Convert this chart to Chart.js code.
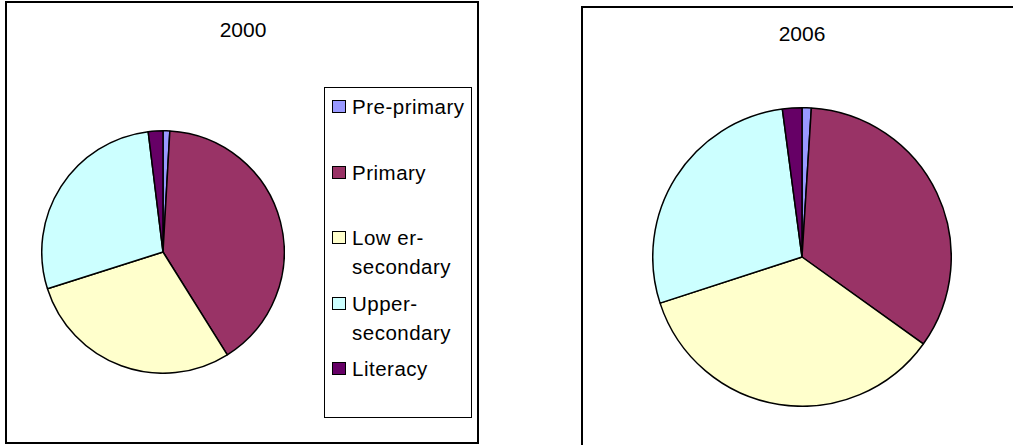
<!DOCTYPE html>
<html>
<head>
<meta charset="utf-8">
<script src="https://cdn.jsdelivr.net/npm/chart.js@4/dist/chart.umd.min.js"></script>
<style>
  html, body { margin: 0; padding: 0; background: #fff; overflow: hidden; }
  body { width: 1013px; height: 445px; position: relative;
         font-family: "Liberation Sans", Arial, sans-serif; color: #000; }
  .frame { position: absolute; border: 2px solid #000; box-sizing: border-box; }
  .title { position: absolute; font-size: 21px; line-height: 24px; text-align: center; width: 200px; }
  .pie { position: absolute; }
  .legend { position: absolute; border: 1px solid #000; box-sizing: border-box; padding-top: 4px; }
  .legend__item { height: 65.5px; position: relative; padding-left: 27px; font-size: 20.5px;
                  letter-spacing: 0.5px; line-height: 29px; white-space: nowrap; }
  .legend__swatch { position: absolute; left: 7px; top: 8px; width: 14px; height: 13px;
                    border: 1.5px solid #000; box-sizing: border-box; }
</style>
</head>
<body>
<div class="frame" style="left:5px;top:1px;width:474px;height:443px"></div>
<div class="frame" style="left:581px;top:6px;width:440px;height:450px"></div>
<div class="title" style="left:143px;top:18px" id="t2000"></div>
<div class="title" style="left:702px;top:22px" id="t2006"></div>
<canvas class="pie" id="pie2000" style="left:41px;top:130px"></canvas>
<canvas class="pie" id="pie2006" style="left:652px;top:107px"></canvas>
<div class="legend" id="legend" style="left:324px;top:87px;width:148px;height:331px"></div>

<script>
// Shares by level of education (percent).
const LEVELS = ["Pre-primary", "Primary", "Lower-secondary", "Upper-secondary", "Literacy"];
// legend wraps the way the original chart did
const LEGEND_LINES = [["Pre-primary"], ["Primary"], ["Low er-", "secondary"], ["Upper-", "secondary"], ["Literacy"]];
const COLORS = ["#9999FF", "#993366", "#FFFFCC", "#CCFFFF", "#660066"];
const YEARS = ["2000", "2006"];
const SHARE_2000 = [0.9, 40.2, 29.0, 27.95, 1.95];
const SHARE_2006 = [1.0, 33.9, 35.1, 27.9, 2.1];

function pie(id, size, values) {
  const cv = document.getElementById(id);
  cv.width = size; cv.height = size;
  cv.style.width = size + "px"; cv.style.height = size + "px";
  return new Chart(cv, {
    type: "pie",
    data: {
      labels: LEVELS,
      datasets: [{
        data: values,
        backgroundColor: COLORS,
        borderColor: "#000",
        borderWidth: 1.5,
        hoverOffset: 0,
      }],
    },
    options: {
      responsive: false,
      animation: false,
      layout: { padding: 0 },
      plugins: { legend: { display: false }, title: { display: false }, tooltip: { enabled: false } },
    },
  });
}

document.getElementById("t2000").textContent = YEARS[0];
document.getElementById("t2006").textContent = YEARS[1];
pie("pie2000", 244, SHARE_2000);
pie("pie2006", 300, SHARE_2006);

// Legend only on the 2000 panel, as in the source
document.getElementById("legend").innerHTML = LEVELS.map((l, i) =>
  '<div class="legend__item"><span class="legend__swatch" style="background:' + COLORS[i] + '"></span>' +
  LEGEND_LINES[i].join("<br>") + "</div>"
).join("");
</script>
</body>
</html>
